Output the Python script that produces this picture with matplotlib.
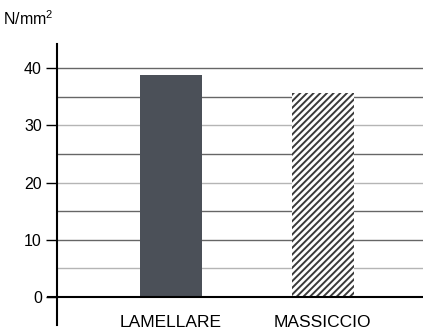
import matplotlib.pyplot as plt

# data
categories = ['LAMELLARE', 'MASSICCIO']
values = [38.8, 35.6]
yticks = [0, 10, 20, 30, 40]
grid_strong = [10, 15, 25, 35, 40]
grid_faint = [5, 20, 30]

plt.rcParams['font.family'] = ['Liberation Sans', 'DejaVu Sans']
plt.rcParams['hatch.linewidth'] = 1.4
plt.rcParams['mathtext.fontset'] = 'custom'
plt.rcParams['mathtext.rm'] = 'Liberation Sans'

fig = plt.figure(figsize=(4.23, 3.34), dpi=100)
ax = fig.add_axes([0.135, 0.027, 0.865, 0.841])

ax.set_xlim(-0.75, 1.66)
ax.set_ylim(-4.9, 44.2)

# horizontal rules
for g in grid_strong:
    ax.axhline(g, color='#666666', lw=1.0, zorder=0)
for g in grid_faint:
    ax.axhline(g, color='#b5b5b5', lw=1.0, zorder=0)

ax.bar(0, values[0], width=0.41, color='#4b5058', zorder=2)
ax.bar(1, values[1], width=0.41, color='white', edgecolor='#3a3a3a',
       hatch='/////', linewidth=0, zorder=2)

# base line (extends a bit left of the axis)
ax.plot([-0.81, 1.66], [0, 0], color='black', lw=1.5, clip_on=False, zorder=3)

for sp in ['top', 'right', 'bottom']:
    ax.spines[sp].set_visible(False)
ax.spines['left'].set_linewidth(1.5)

ax.set_yticks(yticks)
ax.set_yticklabels([str(t) for t in yticks], fontsize=11.5)
ax.tick_params(axis='y', length=8, width=1.0, pad=3)
ax.set_xticks([])

for i, c in enumerate(categories):
    ax.text(i, -4.4, c, ha='center', va='center', fontsize=12.5, clip_on=False)

fig.text(0.008, 0.945, 'N/mm$^\\mathrm{2}$', fontsize=11.5, ha='left', va='center')

plt.savefig('out.png', dpi=100)
